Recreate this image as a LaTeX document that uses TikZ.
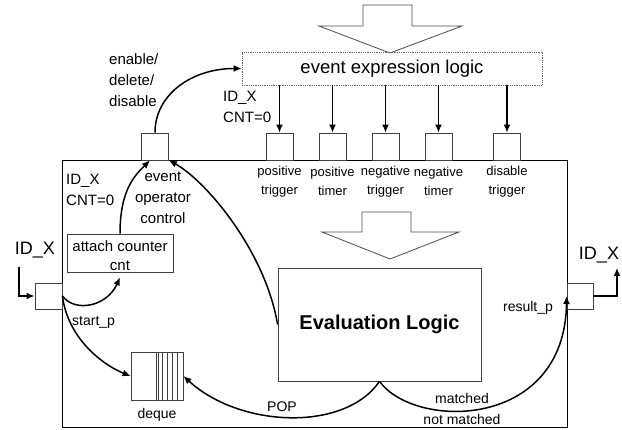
\documentclass[tikz,border=0pt]{standalone}
\usepackage{fontspec}
\setmainfont{Liberation Sans}
\usetikzlibrary{arrows.meta,calc}
\begin{document}
\begin{tikzpicture}[x=1pt,y=-1pt,
  box/.style={draw=black!75,line width=0.8pt,inner sep=0pt},
  port/.style={box,minimum width=27pt,minimum height=27pt},
  conn/.style={line width=1.5pt,-{Latex[length=8pt,width=7pt]}},
  lbl/.style={inner sep=0pt,align=center,font=\fontsize{14}{20}\selectfont},
  small/.style={inner sep=0pt,align=center,font=\fontsize{13}{19}\selectfont},
  mid/.style={inner sep=0pt,align=left,font=\fontsize{15}{21}\selectfont},
  big/.style={inner sep=0pt,font=\fontsize{18}{22}\selectfont},
  hollow/.style={draw=black!70,line width=0.8pt,fill=white,line join=miter}]
\useasboundingbox (0,0) rectangle (622,430);

% main block
\node[draw=black,line width=0.8pt,minimum width=505pt,minimum height=267pt,inner sep=0pt]
  (main) at (314.5,293.5) {};

% event expression logic (dotted frame)
\node[draw=black!60,densely dotted,line width=0.8pt,minimum width=300pt,minimum height=33pt,inner sep=0pt,
  font=\fontsize{18.5}{22}\selectfont] (eel) at (392,68.5) {event expression logic};

% hollow arrow into the expression logic
\draw[hollow] (363,5) -- (412,5) -- (412,26) -- (462,26) -- (390,53) -- (319,26) -- (363,26) -- cycle;

% ports on the top edge
\node[port] (eoc) at (155,146.5) {};
\node[port] (pt)  at (279.5,146.5) {};
\node[port] (ptm) at (332.5,146.5) {};
\node[port] (nt)  at (385.5,146.5) {};
\node[port] (ntm) at (438.5,146.5) {};
\node[port] (dt)  at (507,146.5) {};

\foreach \p in {pt,ptm,nt,ntm,dt}
  \draw[conn] (\p |- eel.south) -- (\p.north);

% port labels
\node[small] (lpt)  at (279.5,181.5) {positive\\trigger};
\node[small] (lptm) at (332.5,181.5) {positive\\timer};
\node[small] (lnt)  at (385.5,181.5) {negative\\trigger};
\node[small] (lntm) at (438.5,181.5) {negative\\timer};
\node[small] (ldt)  at (507,181.5) {disable\\trigger};

\node[mid,anchor=west] (ena) at (109,80) {enable/\\delete/\\disable};
\node[mid,anchor=west] (idc1) at (223,106.5) {ID\_X\\CNT=0};
\node[mid,anchor=west] (idc2) at (66,189.5) {ID\_X\\CNT=0};
\node[mid,align=center] (eocl) at (163,198) {event\\operator\\control};

% attach counter
\node[box,minimum width=106pt,minimum height=38pt] (att) at (120,253) {};
\node[lbl,font=\fontsize{15}{18}\selectfont] (attl) at (120,246) {attach counter};
\node[lbl,font=\fontsize{15}{18}\selectfont] (cnt) at (120,266) {cnt};

% input / output ports
\node[port,minimum width=27pt,minimum height=26pt] (lsq) at (48.5,296) {};
\node[port,minimum width=26pt,minimum height=26pt] (rsq) at (580,296) {};
\node[big] (idl) at (35,250) {ID\_X};
\node[big] (idr) at (599,255) {ID\_X};
\coordinate (inL) at (19,267);
\coordinate (outR) at (617,268);
\draw[conn] (inL) |- (lsq.west);
\draw[conn] (rsq.east) -| (outR);

% inner hollow arrow
\draw[hollow] (362,212) -- (411,212) -- (411,232) -- (459,232) -- (390,259) -- (322,232) -- (362,232) -- cycle;

% evaluation logic
\node[box,minimum width=203pt,minimum height=113pt,font=\fontsize{20}{22}\selectfont\bfseries]
  (eval) at (379.5,324.5) {\raisebox{-3pt}{Evaluation Logic}};

% deque
\node[box,minimum width=52pt,minimum height=48pt] (deq) at (157,376) {};
\foreach \x in {156,158,162,167,172,177}
  \draw[black!75,line width=0.8pt] (\x,352) -- (\x,400);
\node[lbl] (deql) at (157,415) {deque};

% connector labels
\node[lbl,anchor=west] (stp) at (72,322) {start\_p};
\node[lbl] (pop) at (282,407) {POP};
\node[lbl] (mat) at (462,398) {matched};
\node[lbl] (nmat) at (462,419) {not matched};
\node[lbl] (res) at (528,308) {result\_p};

% curved connectors
\draw[conn] (eoc.north) .. controls +(0,-38) and +(-50,0) .. (eel.west);
\draw[conn] (att.north) .. controls +(0,-45) and +(-14,14) .. (eoc.-110);
\draw[conn] (eval.west) .. controls (265,250) and (205,180) .. (eoc.south east);
\draw[conn] (lsq.east) .. controls +(13,17) and +(-13,29) .. ([yshift=-5pt]att.south);
\draw[conn] (lsq.east) .. controls (68,340) and (105,366) .. (deq.west);
\draw[conn] (eval.south) .. controls (345,432) and (240,428) .. (deq.east);
\draw[conn] (eval.south) .. controls (415,430) and (565,430) .. (rsq.west);
\end{tikzpicture}
\end{document}
